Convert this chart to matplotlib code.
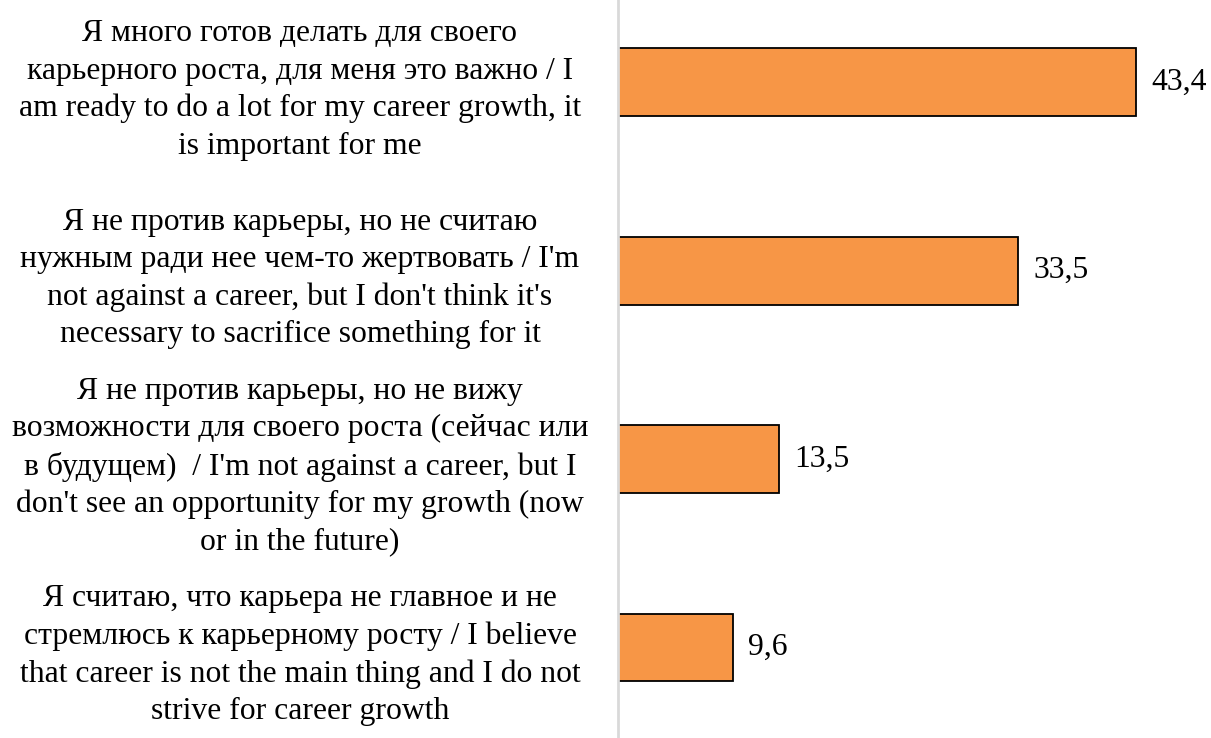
import matplotlib
matplotlib.use("Agg")
import matplotlib.pyplot as plt

categories = [
    "Я много готов делать для своего\nкарьерного роста, для меня это важно / I\nam ready to do a lot for my career growth, it\nis important for me",
    "Я не против карьеры, но не считаю\nнужным ради нее чем-то жертвовать / I'm\nnot against a career, but I don't think it's\nnecessary to sacrifice something for it",
    "Я не против карьеры, но не вижу\nвозможности для своего роста (сейчас или\nв будущем)  / I'm not against a career, but I\ndon't see an opportunity for my growth (now\nor in the future)",
    "Я считаю, что карьера не главное и не\nстремлюсь к карьерному росту / I believe\nthat career is not the main thing and I do not\nstrive for career growth",
]
values = [43.4, 33.5, 13.5, 9.6]
value_labels = ["43,4", "33,5", "13,5", "9,6"]

plt.rcParams['font.family'] = ['Liberation Serif', 'DejaVu Serif']

fig = plt.figure(figsize=(12.11, 7.38), dpi=100)
ax = fig.add_axes([618/1211, -0.005, 1 - 618/1211, 1.021])

pos = list(range(len(categories)))
ax.barh(pos, values, height=0.36, color='#F79646', edgecolor='black', linewidth=1.3)
ax.set_ylim(3.5, -0.5)
ax.set_xlim(0, 49.7)

for p, v, t in zip(pos, values, value_labels):
    ax.text(v + 1.3, p, t, va='center', ha='left', fontsize=22.8)

ax.set_yticks(pos)
ax.set_yticklabels(categories, fontsize=22.8, linespacing=1.37)
for lab in ax.get_yticklabels():
    lab.set_ha('center')
    lab.set_multialignment('center')
ax.tick_params(axis='y', length=0, pad=(618 - 300) * 0.72)
ax.set_xticks([])
for s in ['top', 'right', 'bottom']:
    ax.spines[s].set_visible(False)
ax.spines['left'].set_color('#d9d9d9')
ax.spines['left'].set_linewidth(2)

fig.savefig('out.png', dpi=100)
